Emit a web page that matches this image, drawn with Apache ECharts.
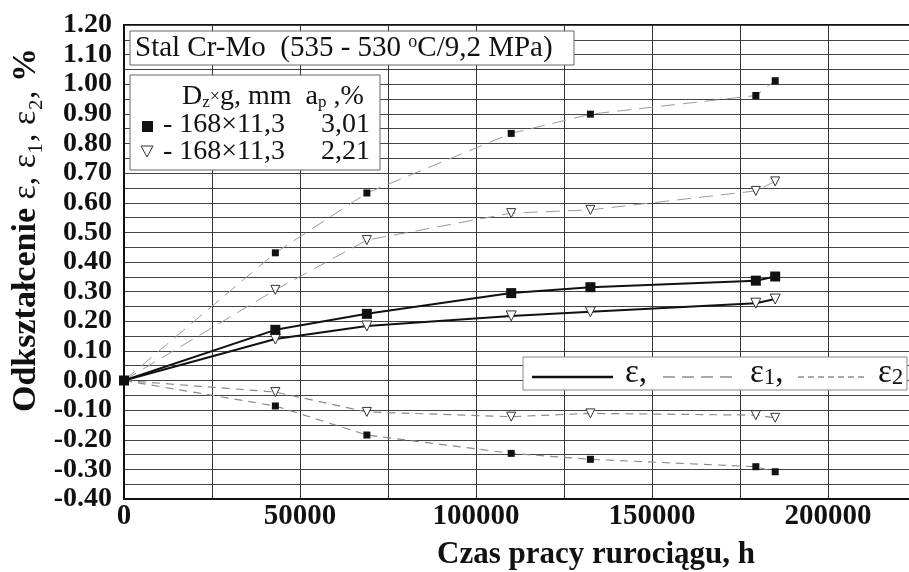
<!DOCTYPE html>
<html lang="pl">
<head>
    <meta charset="UTF-8">
    <title>Odkształcenie rurociągu</title>
    <script src="https://cdn.jsdelivr.net/npm/echarts@6.0.0/dist/echarts.min.js"></script>
    <style>
        body { margin: 0; background: #fff; }
    </style>
</head>
<body>
<div id="main" style="width:909px; height:572px;"></div>
<script>
    // czas pracy, h
    var hours = [0, 43000, 69000, 110000, 132500, 179500, 185000];
    // ε  (odkształcenie zastępcze)
    var eps_301 = [0, 0.171, 0.225, 0.295, 0.315, 0.337, 0.351];
    var eps_221 = [0, 0.140, 0.184, 0.218, 0.232, 0.261, 0.275];
    // ε1
    var eps1_301 = [0, 0.431, 0.633, 0.834, 0.899, 0.962, 1.012];
    var eps1_221 = [0, 0.306, 0.474, 0.565, 0.576, 0.640, 0.672];
    // ε2
    var eps2_301 = [0, -0.086, -0.184, -0.246, -0.266, -0.291, -0.308];
    var eps2_221 = [0, -0.039, -0.106, -0.122, -0.111, -0.117, -0.126];

    var serif = '"Liberation Serif", "Times New Roman", serif';

    function pts(ys, hideOrigin) {
        return hours.map(function (h, i) {
            if (i === 0 && hideOrigin) return {value: [h, ys[i]], symbol: 'none'};
            return [h, ys[i]];
        });
    }

    var square = function (size) {
        return {symbol: 'rect', symbolSize: size, itemStyle: {color: '#111'}};
    };
    var tri = function (size) {
        return {symbol: 'triangle', symbolSize: size, symbolRotate: 180,
            itemStyle: {color: '#fff', borderColor: '#333', borderWidth: 1}};
    };

    function line(name, ys, marker, lineStyle, hideOrigin) {
        return Object.assign({
            name: name, type: 'line', data: pts(ys, hideOrigin),
            lineStyle: lineStyle, animation: false, z: 3
        }, marker);
    }

    var solid = {color: '#111', width: 2};
    var dash1 = {color: '#9a9a9a', width: 1, type: [14, 8]};
    var dash2 = {color: '#8a8a8a', width: 1.2, type: [8, 6]};

    var myChart = echarts.init(document.getElementById('main'));
    var option = {
        backgroundColor: '#fff',
        animation: false,
        grid: {left: 124, top: 25, width: 792, height: 474, show: true,
            borderColor: '#111', borderWidth: 2, outerBoundsMode: 'none'},
        xAxis: {
            type: 'value', min: 0, max: 225000, interval: 25000,
            axisLine: {onZero: false, lineStyle: {color: '#111', width: 2}},
            axisTick: {show: false},
            splitLine: {lineStyle: {color: '#333', width: 1}},
            axisLabel: {
                color: '#111', fontFamily: serif, fontWeight: 'bold', fontSize: 29, margin: 3,
                formatter: function (v) { return v % 50000 === 0 ? String(v) : ''; }
            },
            name: 'Czas pracy rurociągu, h', nameLocation: 'middle', nameGap: 40,
            nameTextStyle: {color: '#111', fontFamily: serif, fontWeight: 'bold', fontSize: 31,
                padding: [0, 0, 0, 152]}
        },
        yAxis: {
            type: 'value', min: -0.4, max: 1.2, interval: 0.05,
            axisLine: {lineStyle: {color: '#111', width: 2}},
            axisTick: {show: false},
            splitLine: {lineStyle: {color: '#444', width: 1}},
            axisLabel: {
                color: '#111', fontFamily: serif, fontWeight: 'bold', fontSize: 28, margin: 12,
                formatter: function (v) {
                    var r = Math.round(v * 100);
                    return r % 10 === 0 ? (r / 100).toFixed(2) : '';
                }
            },
            name: '{b|Odkształcenie }{e|ε, ε₁, ε₂, }{b|%}',
            nameLocation: 'middle', nameGap: 80,
            nameTextStyle: {
                padding: [0, 0, 0, 64],
                rich: {
                    b: {color: '#111', fontFamily: serif, fontWeight: 'bold', fontSize: 34},
                    e: {color: '#111', fontFamily: serif, fontSize: 34}
                }
            }
        },
        graphic: [
            // opis materiału
            {type: 'rect', z: 100, shape: {x: 130, y: 31, width: 444, height: 34},
                style: {fill: '#fff', stroke: '#666', lineWidth: 1}},
            {type: 'text', z: 101, x: 135, y: 48, style: {
                text: '{t|Stal Cr-Mo  (535 - 530 }{s|o}{t|C/9,2 MPa)}', textVerticalAlign: 'middle',
                rich: {t: {fontFamily: serif, fontSize: 29, fill: '#111'},
                    s: {fontFamily: serif, fontSize: 18, fill: '#111', verticalAlign: 'top'}}}},
            // legenda rur
            {type: 'rect', z: 100, shape: {x: 130, y: 75, width: 250, height: 95},
                style: {fill: '#fff', stroke: '#666', lineWidth: 1}},
            {type: 'text', z: 101, x: 182, y: 97, style: {
                text: '{t|D}{u|z}{x|×}{t|g, mm  a}{u|p}{t| ,%}', textVerticalAlign: 'middle',
                rich: {t: {fontFamily: serif, fontSize: 28, fill: '#111'},
                    x: {fontFamily: serif, fontSize: 18, fill: '#111'},
                    u: {fontFamily: serif, fontSize: 17, fill: '#111', verticalAlign: 'bottom'}}}},
            {type: 'rect', z: 101, shape: {x: 142, y: 121, width: 11, height: 11}, style: {fill: '#111'}},
            {type: 'text', z: 101, x: 163, y: 125, style: {text: '- 168×11,3', fontFamily: serif,
                fontSize: 28, fill: '#111', textVerticalAlign: 'middle'}},
            {type: 'text', z: 101, x: 370, y: 125, style: {text: '3,01', fontFamily: serif,
                fontSize: 28, fill: '#111', textAlign: 'right', textVerticalAlign: 'middle'}},
            {type: 'polygon', z: 101, shape: {points: [[141, 146], [153, 146], [147, 157]]},
                style: {fill: '#fff', stroke: '#333', lineWidth: 1}},
            {type: 'text', z: 101, x: 163, y: 152, style: {text: '- 168×11,3', fontFamily: serif,
                fontSize: 28, fill: '#111', textVerticalAlign: 'middle'}},
            {type: 'text', z: 101, x: 370, y: 152, style: {text: '2,21', fontFamily: serif,
                fontSize: 28, fill: '#111', textAlign: 'right', textVerticalAlign: 'middle'}},
            // legenda linii
            {type: 'rect', z: 100, shape: {x: 523, y: 357, width: 384, height: 33},
                style: {fill: '#fff', stroke: '#888', lineWidth: 1}},
            {type: 'line', z: 101, shape: {x1: 532, y1: 377, x2: 613, y2: 377},
                style: {stroke: '#111', lineWidth: 2.5}},
            {type: 'text', z: 101, x: 625, y: 373, style: {text: 'ε,', fontFamily: serif,
                fontSize: 33, fill: '#111', textVerticalAlign: 'middle'}},
            {type: 'line', z: 101, shape: {x1: 663, y1: 377, x2: 738, y2: 377},
                style: {stroke: '#555', lineWidth: 1.2, lineDash: [12, 7]}},
            {type: 'text', z: 101, x: 750, y: 373, style: {
                text: '{e|ε}{s|1}{e|,}', textVerticalAlign: 'middle',
                rich: {e: {fontFamily: serif, fontSize: 33, fill: '#111'},
                    s: {fontFamily: serif, fontSize: 23, fill: '#111', verticalAlign: 'bottom'}}}},
            {type: 'line', z: 101, shape: {x1: 798, y1: 377, x2: 867, y2: 377},
                style: {stroke: '#555', lineWidth: 1.2, lineDash: [6, 4]}},
            {type: 'text', z: 101, x: 878, y: 373, style: {
                text: '{e|ε}{s|2}', textVerticalAlign: 'middle',
                rich: {e: {fontFamily: serif, fontSize: 33, fill: '#111'},
                    s: {fontFamily: serif, fontSize: 23, fill: '#111', verticalAlign: 'bottom'}}}}
        ],
        series: [
            line('ε1 3,01', eps1_301, square(7), dash1, true),
            line('ε1 2,21', eps1_221, tri(9), dash1, true),
            line('ε2 3,01', eps2_301, square(7), dash2, true),
            line('ε2 2,21', eps2_221, tri(9), dash2, true),
            line('ε 2,21', eps_221, tri(10), solid, true),
            line('ε 3,01', eps_301, square(10), solid, false)
        ]
    };
    myChart.setOption(option);
</script>
</body>
</html>
